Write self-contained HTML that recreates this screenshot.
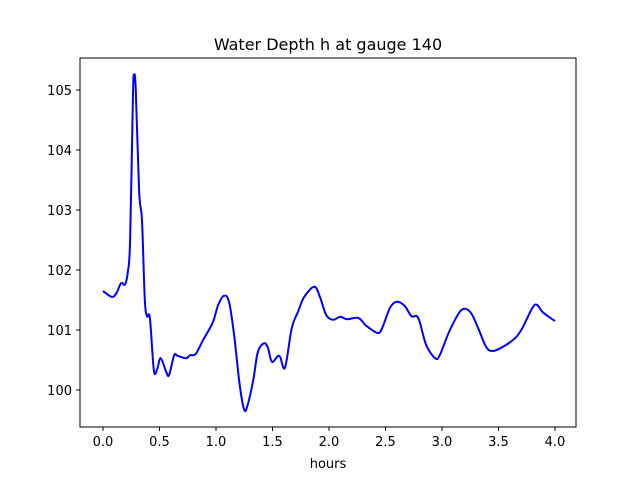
<!DOCTYPE html>
<html><head><meta charset="utf-8"><style>
body{margin:0;background:#fff;}
svg{display:block;font-family:"DejaVu Sans","Liberation Sans",sans-serif;}
</style></head><body>
<svg id="chart" width="640" height="480">
<rect width="640" height="480" fill="#fff"/>
<text x="328" y="50" font-size="16" text-anchor="middle">Water Depth h at gauge 140</text>
<text x="328" y="468" font-size="13" text-anchor="middle">hours</text>
<g id="ticks"></g>
<path id="line" fill="none" stroke="#0000ff" stroke-width="2" stroke-linejoin="round"/>
<rect x="80" y="58" width="496" height="369" fill="none" stroke="#000" stroke-width="1"/>
</svg>
<script>
const hours=[0,0.08,0.12,0.16,0.195,0.22,0.24,0.265,0.275,0.29,0.32,0.345,0.37,0.39,0.415,0.45,0.48,0.51,0.56,0.585,0.63,0.66,0.735,0.77,0.82,0.885,0.97,1.02,1.07,1.115,1.16,1.21,1.25,1.28,1.33,1.37,1.425,1.46,1.495,1.56,1.61,1.67,1.725,1.78,1.87,1.92,1.975,2.035,2.1,2.16,2.26,2.33,2.43,2.47,2.54,2.6,2.67,2.73,2.79,2.86,2.94,2.98,3.07,3.17,3.25,3.32,3.39,3.45,3.54,3.65,3.71,3.8,3.84,3.89,3.96,4.0];
const depth=[101.65,101.55,101.62,101.78,101.76,101.97,102.5,104.9,105.25,105.0,103.3,102.83,101.5,101.23,101.2,100.33,100.35,100.53,100.3,100.25,100.58,100.57,100.53,100.58,100.6,100.83,101.12,101.42,101.57,101.47,100.92,100.08,99.67,99.75,100.17,100.63,100.78,100.7,100.47,100.57,100.37,101.03,101.3,101.55,101.72,101.55,101.25,101.17,101.22,101.18,101.2,101.07,100.95,101.03,101.37,101.47,101.4,101.23,101.2,100.75,100.53,100.58,101.0,101.33,101.3,101.03,100.72,100.65,100.72,100.87,101.03,101.37,101.42,101.3,101.2,101.15];
const xTicks=["0.0","0.5","1.0","1.5","2.0","2.5","3.0","3.5","4.0"];
const yTicks=[100,101,102,103,104,105];
const X=h=>103+h*113, Y=v=>390-(v-100)*60;
const ns="http://www.w3.org/2000/svg";
const g=document.getElementById('ticks');
function mk(t,a){const e=document.createElementNS(ns,t);for(const k in a)e.setAttribute(k,a[k]);return e;}
xTicks.forEach(t=>{const x=X(parseFloat(t));
 const l=mk('line',{x1:x,x2:x,y1:427,y2:431,stroke:'#000'});
 
 
 g.appendChild(l);
 const tx=mk('text',{x:x,y:446,'font-size':13,'text-anchor':'middle'});tx.textContent=t;
 
 
 g.appendChild(tx);});
yTicks.forEach(t=>{const y=Y(t);
 const l=mk('line',{x1:76,x2:80,y1:y,y2:y,stroke:'#000'});
 
 
 g.appendChild(l);
 const tx=mk('text',{x:72,y:y+5,'font-size':13,'text-anchor':'end'});tx.textContent=t;
 
 
 g.appendChild(tx);});
const pts=hours.map((h,i)=>[X(h),Y(depth[i])]);
let d='M'+pts[0][0]+','+pts[0][1];
for(let i=0;i<pts.length-1;i++){const p0=pts[Math.max(0,i-1)],p1=pts[i],p2=pts[i+1],p3=pts[Math.min(pts.length-1,i+2)];
 const c1=[p1[0]+(p2[0]-p0[0])/6,p1[1]+(p2[1]-p0[1])/6],c2=[p2[0]-(p3[0]-p1[0])/6,p2[1]-(p3[1]-p1[1])/6];
 d+=` C${c1[0]},${c1[1]} ${c2[0]},${c2[1]} ${p2[0]},${p2[1]}`;}
document.getElementById('line').setAttribute('d',d);
</script>
</body></html>
